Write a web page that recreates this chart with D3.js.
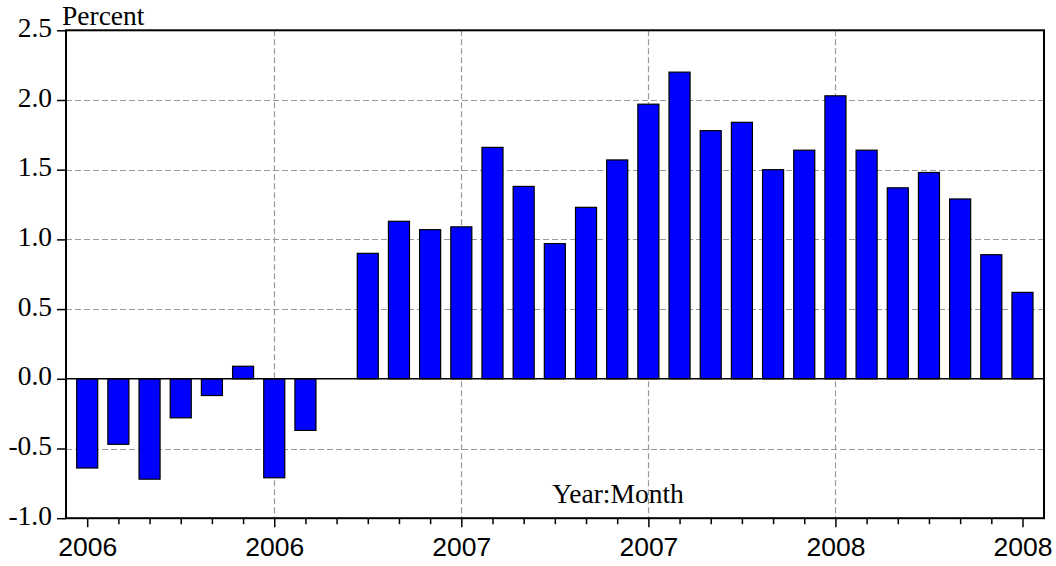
<!DOCTYPE html>
<html>
<head>
<meta charset="utf-8">
<script src="https://cdn.jsdelivr.net/npm/d3@7"></script>
<style>
  html, body { margin: 0; padding: 0; background: #fff; }
  svg { display: block; }
</style>
</head>
<body>
<svg id="chart" width="1056" height="566"></svg>
<script>
// ---- data ----
const periods = [
  "2006M01","2006M02","2006M03","2006M04","2006M05","2006M06","2006M07","2006M08","2006M09","2006M10","2006M11","2006M12",
  "2007M01","2007M02","2007M03","2007M04","2007M05","2007M06","2007M07","2007M08","2007M09","2007M10","2007M11","2007M12",
  "2008M01","2008M02","2008M03","2008M04","2008M05","2008M06","2008M07"
];
const values = [
  -0.64, -0.47, -0.72, -0.28, -0.12, 0.09, -0.71, -0.37, null,
  0.90, 1.13, 1.07, 1.09, 1.66, 1.38, 0.97, 1.23, 1.57, 1.97, 2.20,
  1.78, 1.84, 1.50, 1.64, 2.03, 1.64, 1.37, 1.48, 1.29, 0.89, 0.62
];
const xTickIndex = [0, 6, 12, 18, 24, 30];
const xTickLabels = ["2006", "2006", "2007", "2007", "2008", "2008"];
const yTicks = [-1.0, -0.5, 0.0, 0.5, 1.0, 1.5, 2.0, 2.5];
const yGrid = [-0.5, 0.5, 1.0, 1.5, 2.0];
const yAxisTitle = "Percent";
const xAxisTitle = "Year:Month";

// ---- layout ----
const L = 66, R = 1044, T = 30.3, B = 518.2;
const svg = d3.select("#chart");

const x = d3.scaleLinear().domain([-0.68, periods.length - 1 + 0.69]).range([L, R]);
const y = d3.scaleLinear().domain([-1.0, 2.5]).range([B, T]);
const slot = x(1) - x(0);
const barW = slot * 0.675;

// grid
const grid = svg.append("g").attr("stroke", "#999").attr("stroke-width", 1.2)
  .attr("stroke-dasharray", "6,3").attr("fill", "none");
grid.selectAll("line.h").data(yGrid).join("line")
  .attr("x1", L).attr("x2", R)
  .attr("y1", d => Math.round(y(d)) + 0.5).attr("y2", d => Math.round(y(d)) + 0.5);
grid.selectAll("line.v").data(xTickIndex.filter(i => i > 0 && i < periods.length - 1)).join("line")
  .attr("x1", d => Math.round(x(d)) + 0.5).attr("x2", d => Math.round(x(d)) + 0.5)
  .attr("y1", T).attr("y2", B);

// bars
const data = periods.map((p, i) => ({ p, i, v: values[i] })).filter(d => d.v !== null);
svg.append("g").selectAll("rect").data(data).join("rect")
  .attr("x", d => x(d.i) - barW / 2)
  .attr("width", barW)
  .attr("y", d => y(Math.max(0, d.v)))
  .attr("height", d => Math.abs(y(d.v) - y(0)))
  .attr("fill", "#0000ff")
  .attr("stroke", "#000")
  .attr("stroke-width", 1.2);

// zero line
svg.append("line")
  .attr("x1", L).attr("x2", R).attr("y1", y(0)).attr("y2", y(0))
  .attr("stroke", "#000").attr("stroke-width", 1.5);

// frame
svg.append("rect")
  .attr("x", L).attr("y", T).attr("width", R - L).attr("height", B - T)
  .attr("fill", "none").attr("stroke", "#000").attr("stroke-width", 2);

// y axis
const fmt1 = d3.format(".1f");
const yAxis = d3.axisLeft(y).tickValues(yTicks).tickSize(9).tickPadding(5)
  .tickFormat(d => fmt1(d).replace("\u2212", "-"));
const gy = svg.append("g").attr("transform", `translate(${L},0)`).call(yAxis);
gy.select(".domain").remove();
gy.selectAll(".tick line").attr("stroke", "#000").attr("stroke-width", 1.5);
gy.selectAll(".tick text")
  .attr("font-family", "'Liberation Serif', 'Times New Roman', serif")
  .attr("font-size", 27.5).attr("fill", "#000")
  .attr("dy", 6).attr("x", -14);

// x axis minor ticks
const minor = d3.range(periods.length).filter(i => !xTickIndex.includes(i));
const xMinor = d3.axisBottom(x).tickValues(minor).tickSize(6).tickFormat("");
const gxm = svg.append("g").attr("transform", `translate(0,${B})`).call(xMinor);
gxm.select(".domain").remove();
gxm.selectAll(".tick line").attr("stroke", "#000").attr("stroke-width", 1.5);

// x axis major ticks with labels
const xMajor = d3.axisBottom(x).tickValues(xTickIndex).tickSize(9).tickPadding(9)
  .tickFormat((d, k) => xTickLabels[k]);
const gx = svg.append("g").attr("transform", `translate(0,${B})`).call(xMajor);
gx.select(".domain").remove();
gx.selectAll(".tick line").attr("stroke", "#000").attr("stroke-width", 1.5);
gx.selectAll(".tick text")
  .attr("font-family", "'Liberation Sans', Arial, sans-serif")
  .attr("font-size", 26.5).attr("fill", "#000")
  .attr("y", 0).attr("dy", 38);

// titles
svg.append("text").attr("x", 62).attr("y", 25)
  .attr("font-family", "'Liberation Serif', 'Times New Roman', serif")
  .attr("font-size", 27.5).attr("fill", "#000").text(yAxisTitle);
svg.append("text").attr("x", 618).attr("y", 503).attr("text-anchor", "middle")
  .attr("font-family", "'Liberation Serif', 'Times New Roman', serif")
  .attr("font-size", 27.5).attr("fill", "#000").text(xAxisTitle);
</script>
</body>
</html>
